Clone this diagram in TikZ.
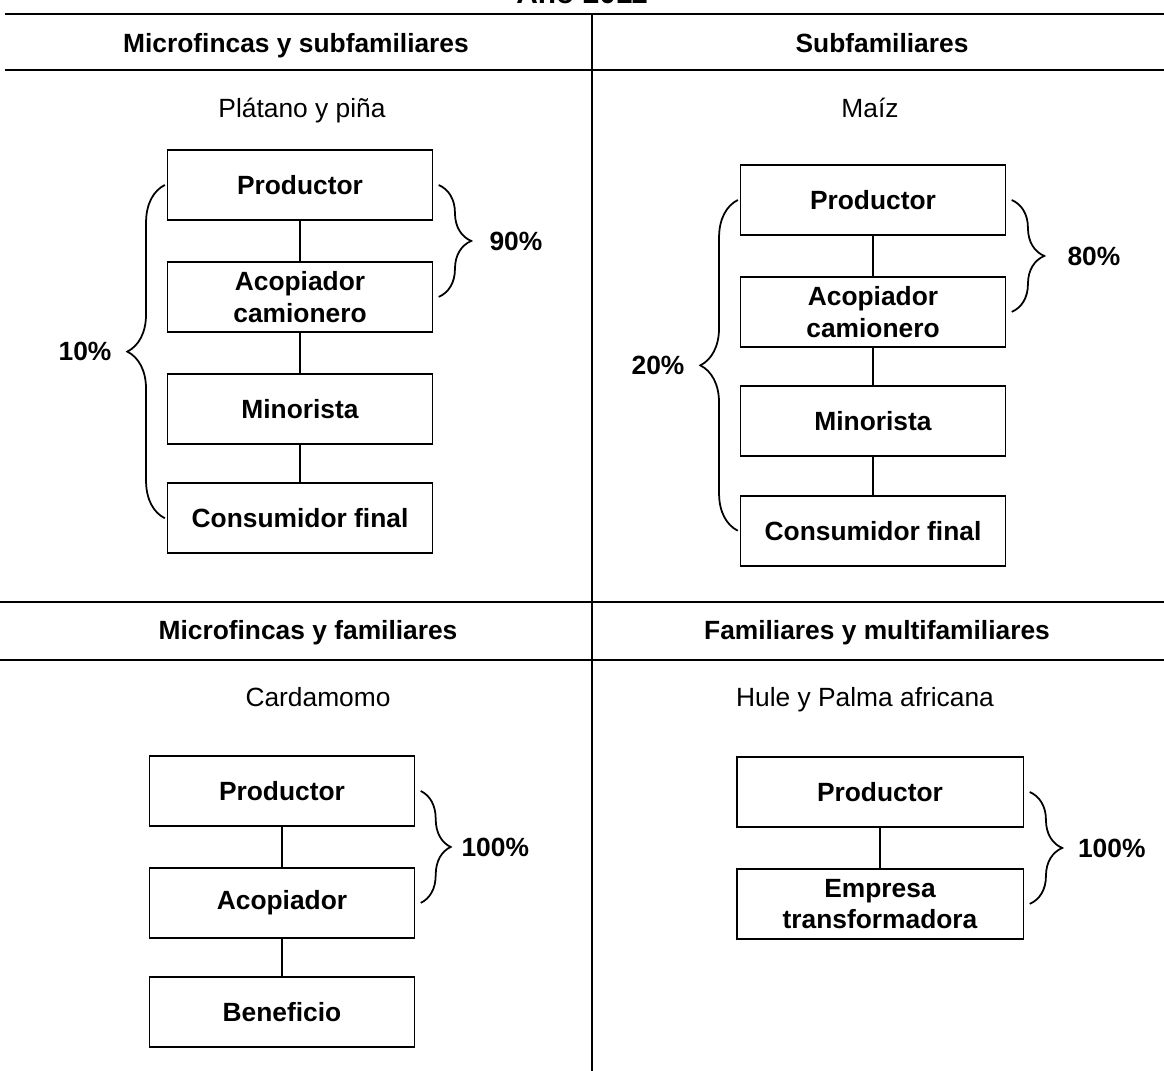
\documentclass[tikz,border=0pt]{standalone}
\usepackage{fontspec}
\setmainfont{Liberation Sans}
\usetikzlibrary{positioning,decorations.pathreplacing}

\tikzset{
  caja/.style={draw, line width=1.1pt, minimum width=5.3cm, minimum height=1.4cm,
    align=center, font=\fontsize{15}{18}\selectfont\bfseries, inner sep=2pt},
  enlace/.style={line width=0.8pt},
  llave/.style={decorate, line width=1pt, decoration={brace, amplitude=#1}},
  llave/.default=0.65cm,
  pct/.style={font=\fontsize{15}{17}\selectfont\bfseries, inner sep=0pt},
  encabezado/.style={font=\fontsize{15}{17}\selectfont\bfseries, anchor=base},
  cultivo/.style={font=\fontsize{15}{17}\selectfont, anchor=base},
  regla/.style={line width=1.6pt}
}

\begin{document}
\begin{tikzpicture}[x=0.02cm, y=-0.02cm]
    \useasboundingbox (0,0) rectangle (1164,1071);

    % Paso 1: Título y líneas de la tabla
    \node[encabezado, font=\fontsize{17}{19}\selectfont\bfseries] (titulo) at (582,4) {Año 2011};
    \coordinate (l1a) at (5,14);    \coordinate (l1b) at (1164,14);
    \coordinate (l2a) at (5,70);    \coordinate (l2b) at (1164,70);
    \coordinate (l3a) at (0,602);   \coordinate (l3b) at (1164,602);
    \coordinate (l4a) at (0,660);   \coordinate (l4b) at (1164,660);
    \coordinate (va) at (592,14);   \coordinate (vb) at (592,1071);
    \draw[regla] (l1a) -- (l1b);
    \draw[regla] (l2a) -- (l2b);
    \draw[regla] (l3a) -- (l3b);
    \draw[regla] (l4a) -- (l4b);
    \draw[line width=1.1pt] (va) -- (vb);

    % Paso 2: Encabezados de cada tipo de finca
    \node[encabezado] (h1) at (296,53) {Microfincas y subfamiliares};
    \node[encabezado] (h2) at (882,53) {Subfamiliares};
    \node[encabezado] (h3) at (308,639) {Microfincas y familiares};
    \node[encabezado] (h4) at (877,639) {Familiares y multifamiliares};

    % Paso 3: Plátano y piña
    \node[cultivo] (c1) at (302,118) {Plátano y piña};
    \node[caja] (p1) at (300,185) {Productor};
    \node[caja, below=0.8cm of p1] (a1) {Acopiador\\camionero};
    \node[caja, below=0.8cm of a1] (m1) {Minorista};
    \node[caja, below=0.75cm of m1] (f1) {Consumidor final};
    \draw[enlace] (p1) -- (a1);
    \draw[enlace] (a1) -- (m1);
    \draw[enlace] (m1) -- (f1);
    \draw[llave] ([xshift=3pt]p1.east) -- ([xshift=3pt]a1.east)
        node[pct, midway, right=1.0cm] (q1) {90\%};
    \draw[llave=0.75cm] ([xshift=-1pt]f1.west) -- ([xshift=-1pt]p1.west)
        node[pct, midway, left=1.05cm] (r1) {10\%};

    % Paso 4: Maíz
    \node[cultivo] (c2) at (870,118) {Maíz};
    \node[caja] (p2) at (873,200) {Productor};
    \node[caja, below=0.8cm of p2] (a2) {Acopiador\\camionero};
    \node[caja, below=0.75cm of a2] (m2) {Minorista};
    \node[caja, below=0.75cm of m2] (f2) {Consumidor final};
    \draw[enlace] (p2) -- (a2);
    \draw[enlace] (a2) -- (m2);
    \draw[enlace] (m2) -- (f2);
    \draw[llave] ([xshift=3pt]p2.east) -- ([xshift=3pt]a2.east)
        node[pct, midway, right=1.1cm] (q2) {80\%};
    \draw[llave=0.75cm] ([xshift=-1pt]f2.west) -- ([xshift=-1pt]p2.west)
        node[pct, midway, left=1.05cm] (r2) {20\%};

    % Paso 5: Cardamomo
    \node[cultivo] (c3) at (318,706) {Cardamomo};
    \node[caja] (p3) at (282,791) {Productor};
    \node[caja, below=0.8cm of p3] (a3) {Acopiador};
    \node[caja, below=0.75cm of a3] (b3) {Beneficio};
    \draw[enlace] (p3) -- (a3);
    \draw[enlace] (a3) -- (b3);
    \draw[llave=0.6cm] ([xshift=3pt]p3.east) -- ([xshift=3pt]a3.east)
        node[pct, midway, right=0.8cm] (q3) {100\%};

    % Paso 6: Hule y Palma africana
    \node[cultivo] (c4) at (865,706) {Hule y Palma africana};
    \node[caja, minimum width=5.74cm] (p4) at (880,792) {Productor};
    \node[caja, minimum width=5.74cm, below=0.8cm of p4] (e4) {Empresa\\transformadora};
    \draw[enlace] (p4) -- (e4);
    \draw[llave] ([xshift=3pt]p4.east) -- ([xshift=3pt]e4.east)
        node[pct, midway, right=0.95cm] (q4) {100\%};
\end{tikzpicture}
\end{document}
